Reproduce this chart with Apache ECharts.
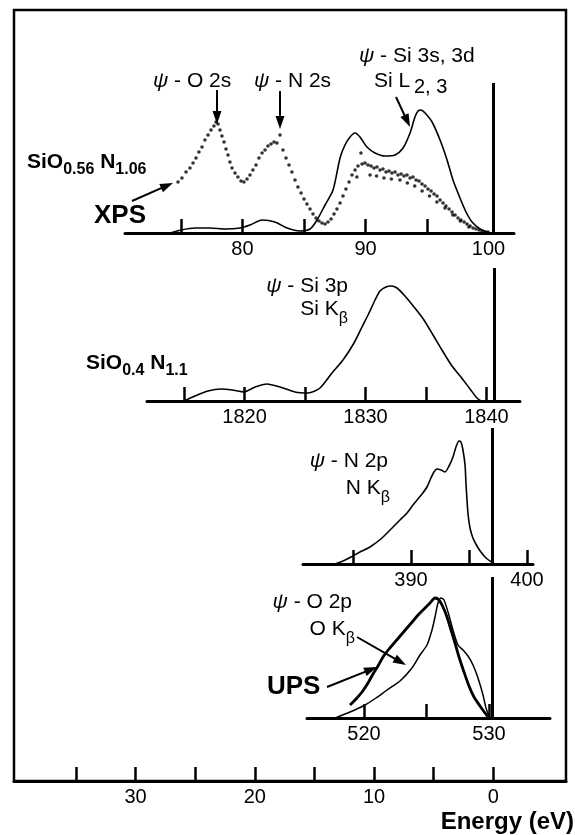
<!DOCTYPE html>
<html><head><meta charset="utf-8">
<script src="https://cdn.jsdelivr.net/npm/echarts@6/dist/echarts.min.js"></script>
<style>html,body{margin:0;padding:0;background:#fff}#c{width:575px;height:835px}</style>
</head><body><div id="c"></div>
<script>
// ---------- DATA ----------
// Common energy scale (eV, relative to Fermi level)
const bottomTicks = [35, 30, 25, 20, 15, 10, 5, 0];
const bottomLabels = [30, 20, 10, 0];

// Panel 1: SiO0.56N1.06 — Si L2,3 emission (solid) and XPS (dots)
const p1Ticks = [75, 80, 85, 90, 95];
const p1Labels = [80, 90, 100];
const p1Fermi = 100.37;
const p1SiL23 = [[74.11,0],[75.00,3],[76.14,5],[77.36,5],[78.58,4],[79.80,5],[80.61,8],[81.59,13],[82.64,11],[83.62,5],[84.67,2],[85.49,4],[86.06,13],[86.71,28],[87.36,43],[87.93,75],[88.33,88],[88.74,96],[89.15,100],[89.55,96],[90.12,86],[90.77,80],[91.59,77],[92.40,78],[93.05,85],[93.62,100],[94.02,116],[94.27,122],[94.51,123],[94.84,120],[95.41,111],[96.06,93],[96.63,73],[97.11,53],[97.68,35],[98.17,21],[98.66,11],[99.31,4],[100.12,0]];
const p1XPS = [[74.76,51],[75.08,55],[75.41,61],[75.73,65],[75.98,70],[76.22,75],[76.46,81],[76.71,86],[76.95,93],[77.20,98],[77.44,103],[77.68,107],[77.85,111],[78.01,109],[78.17,103],[78.33,97],[78.50,91],[78.66,84],[78.82,78],[78.98,71],[79.15,65],[79.39,60],[79.63,56],[79.88,52],[80.12,51],[80.37,54],[80.61,58],[80.85,63],[81.10,68],[81.34,75],[81.59,80],[81.83,83],[82.07,87],[82.32,89],[82.56,91],[82.80,90],[83.05,98],[83.29,83],[83.54,75],[83.78,68],[84.02,61],[84.27,53],[84.51,46],[84.76,40],[85.00,34],[85.24,29],[85.49,24],[85.73,19],[85.98,15],[86.22,12],[86.46,10],[86.71,9],[86.95,11],[87.20,14],[87.44,19],[87.68,24],[87.93,30],[88.17,37],[88.41,44],[88.66,51],[88.90,58],[89.15,63],[89.39,67],[89.63,80],[89.72,69],[89.96,70],[90.20,68],[90.45,67],[90.69,65],[90.93,66],[91.18,63],[91.42,64],[91.67,61],[91.91,62],[92.15,60],[92.40,61],[92.64,58],[92.89,59],[93.13,57],[93.37,58],[93.62,55],[93.86,56],[94.11,53],[94.35,52],[94.59,49],[94.84,47],[95.08,44],[95.33,42],[95.57,39],[95.81,37],[96.06,33],[96.30,30],[96.54,27],[96.79,24],[97.03,21],[97.28,18],[97.52,15],[97.76,13],[98.01,11],[98.25,9],[98.50,7],[98.74,5],[98.98,4],[99.23,3],[99.47,2],[99.72,1],[99.96,1],
  [89.30,56],[90.37,58],[90.90,57],[91.50,55],[92.10,54],[92.80,53],[93.40,50],[94.00,47],[94.60,42],[95.20,37],[95.80,31],[96.46,25],[97.10,18],[97.70,12],[98.40,6]];

// Panel 2: SiO0.4N1.1 — Si Kβ emission
const p2Ticks = [1815, 1820, 1825, 1830, 1835, 1840];
const p2Labels = [1820, 1830, 1840];
const p2Fermi = 1840.62;
const p2SiKb = [[1815.00,0],[1815.91,5],[1816.98,10],[1818.06,12],[1818.97,11],[1819.96,9],[1820.87,14],[1821.86,17],[1822.93,14],[1824.17,9],[1825.25,8],[1826.24,13],[1827.23,28],[1828.14,41],[1829.05,58],[1829.71,74],[1830.29,88],[1830.79,101],[1831.20,110],[1831.69,114],[1832.11,115],[1832.60,113],[1833.26,105],[1834.01,94],[1834.83,81],[1835.58,66],[1836.32,51],[1837.15,35],[1837.89,24],[1838.64,12],[1839.21,3],[1839.55,0]];

// Panel 3: N Kβ emission
const p3Ticks = [385, 390, 395, 400];
const p3Labels = [390, 400];
const p3Fermi = 396.98;
const p3NKb = [[383.45,0],[384.14,3],[384.83,7],[385.60,12],[386.47,17],[387.50,26],[388.45,37],[389.05,44],[389.66,51],[390.17,59],[390.52,64],[390.95,70],[391.38,77],[391.72,86],[391.98,92],[392.24,95],[392.59,94],[392.93,92],[393.28,98],[393.62,107],[393.88,117],[394.14,123],[394.31,122],[394.48,114],[394.66,99],[394.74,81],[394.91,51],[395.09,36],[395.34,26],[395.69,18],[396.03,12],[396.47,6],[397.07,1]];

// Panel 4: O Kβ emission (solid) and UPS (thick)
const p4Ticks = [520, 525, 530];
const p4Labels = [520, 530];
const p4Fermi = 530.24;
const p4OKb = [[517.68,0],[518.88,6],[520.08,13],[520.96,20],[521.84,28],[522.88,37],[523.84,50],[524.48,63],[525.04,73],[525.44,88],[525.68,101],[525.92,115],[526.16,120],[526.40,118],[526.72,106],[527.12,88],[527.52,73],[527.92,68],[528.32,62],[528.72,53],[529.12,40],[529.52,23],[529.76,10],[530.00,2]];
const p4UPS = [[518.88,13],[519.36,19],[519.84,26],[520.32,35],[520.72,44],[521.12,52],[521.52,61],[522.00,69],[522.48,76],[522.96,83],[523.44,90],[523.92,97],[524.40,104],[524.88,110],[525.28,115],[525.68,120],[526.00,118],[526.32,111],[526.64,101],[526.96,88],[527.28,75],[527.60,61],[528.00,46],[528.40,32],[528.80,21],[529.28,12],[529.68,5],[530.00,0]];

// ---------- CHART ----------
const FONT = '"Liberation Sans", Arial, Helvetica, sans-serif';
const chart = echarts.init(document.getElementById('c'), null, {renderer: 'canvas'});

function grid(left, top, width, height, show) {
  return {left, top, width, height, containLabel: false, outerBoundsMode: 'none',
    show: !!show, borderColor: '#000', borderWidth: 2.5, backgroundColor: 'transparent'};
}
function xAx(gi, min, max, ticks, labels, inverse) {
  return {type: 'value', gridIndex: gi, min, max, inverse: !!inverse, position: 'bottom',
    axisLine: {show: true, onZero: false, lineStyle: {color: '#000', width: 3}},
    axisTick: {show: true, inside: true, length: 14, lineStyle: {color: '#000', width: 2.5}, customValues: ticks},
    axisLabel: {show: true, color: '#000', fontSize: 20, fontFamily: FONT, margin: 6, customValues: labels,
      formatter: v => String(v)},
    splitLine: {show: false}, minorTick: {show: false}, axisPointer: {show: false}};
}
function yAx(gi, max) { return {type: 'value', gridIndex: gi, min: 0, max, show: false, splitLine: {show: false}}; }
function fermi(v) {
  return {silent: true, symbol: 'none', label: {show: false}, emphasis: {disabled: true},
    lineStyle: {color: '#000', width: 3, type: 'solid'}, data: [{xAxis: v}]};
}
function line(i, data, w, mark) {
  const s = {type: 'line', xAxisIndex: i, yAxisIndex: i, data, smooth: 0.25, symbol: 'none', showSymbol: false,
    lineStyle: {color: '#000', width: w}, silent: true, z: 3};
  if (mark !== undefined) s.markLine = fermi(mark);
  return s;
}

const annRich = {
  m: {fontSize: 21, fontFamily: FONT, lineHeight: 28, verticalAlign: 'top', fill: '#000'},
  p: {fontSize: 21, fontFamily: FONT, fontStyle: 'italic', lineHeight: 28, verticalAlign: 'top', fill: '#000'},
  s: {fontSize: 16, fontFamily: FONT, lineHeight: 16, verticalAlign: 'bottom', fill: '#000'}
};
const boldRich = {
  b: {fontSize: 21, fontFamily: FONT, fontWeight: 'bold', lineHeight: 26, verticalAlign: 'top', fill: '#000'},
  bs: {fontSize: 16, fontFamily: FONT, fontWeight: 'bold', lineHeight: 16, verticalAlign: 'bottom', fill: '#000'}
};
function txt(x, y, text, align, rich) {
  return {type: 'text', x, y, silent: true, z: 10,
    style: {text, align, verticalAlign: 'middle', fill: '#000', rich}};
}
function plainTxt(x, y, text, align, font) {
  return {type: 'text', x, y, silent: true, z: 10,
    style: {text, align, verticalAlign: 'middle', fill: '#000', font}};
}
function arrow(x1, y1, x2, y2) {
  const dx = x2 - x1, dy = y2 - y1, L = Math.hypot(dx, dy), ux = dx / L, uy = dy / L;
  const hl = 13, hw = 4.5, bx = x2 - ux * hl, by = y2 - uy * hl;
  return [
    {type: 'line', silent: true, z: 10, shape: {x1, y1, x2: bx + ux * 2, y2: by + uy * 2}, style: {stroke: '#000', lineWidth: 2}},
    {type: 'polygon', silent: true, z: 10, shape: {points: [[x2, y2], [bx - uy * hw, by + ux * hw], [bx + uy * hw, by - ux * hw]]}, style: {fill: '#000'}}
  ];
}

const graphics = [
  txt(153, 85, '{p|ψ}{m| - O 2s}', 'left', annRich),
  txt(254, 85, '{p|ψ}{m| - N 2s}', 'left', annRich),
  txt(359, 60, '{p|ψ}{m| - Si 3s, 3d}', 'left', annRich),
  txt(374, 85, '{m|Si L}', 'left', annRich),
  plainTxt(414, 87, '2, 3', 'left', '20px ' + FONT),
  txt(348, 290, '{p|ψ}{m| - Si 3p}', 'right', annRich),
  txt(348, 313, '{m|Si K}{s|β}', 'right', annRich),
  txt(388, 465, '{p|ψ}{m| - N 2p}', 'right', annRich),
  txt(390, 492, '{m|N K}{s|β}', 'right', annRich),
  txt(352, 606, '{p|ψ}{m| - O 2p}', 'right', annRich),
  txt(355, 633, '{m|O K}{s|β}', 'right', annRich),
  txt(27, 165, '{b|SiO}{bs|0.56}{b| N}{bs|1.06}', 'left', boldRich),
  txt(86, 366, '{b|SiO}{bs|0.4}{b| N}{bs|1.1}', 'left', boldRich),
  plainTxt(94, 216, 'XPS', 'left', 'bold 26px ' + FONT),
  plainTxt(267, 687, 'UPS', 'left', 'bold 26px ' + FONT),
  plainTxt(574, 822, 'Energy (eV)', 'right', 'bold 24px ' + FONT)
].concat(
  arrow(217, 90, 217, 124),
  arrow(280, 91, 280, 129),
  arrow(396, 97, 410, 127),
  arrow(132, 201, 173, 183),
  arrow(327, 687, 377, 667),
  arrow(357, 637, 406, 665)
);

chart.setOption({
  animation: false,
  backgroundColor: '#fff',
  textStyle: {fontFamily: FONT, color: '#000'},
  grid: [
    grid(14, 10, 552, 771, true),
    grid(125, 83, 389, 150),
    grid(147, 268, 373, 133),
    grid(303, 428, 230, 136),
    grid(307, 577, 243, 141)
  ],
  xAxis: [
    xAx(0, -6.1, 40.2, bottomTicks, bottomLabels, true),
    xAx(1, 70.45, 102.07, p1Ticks, p1Labels),
    xAx(2, 1811.94, 1842.77, p2Ticks, p2Labels),
    xAx(3, 380.69, 400.52, p3Ticks, p3Labels),
    xAx(4, 515.44, 534.88, p4Ticks, p4Labels)
  ],
  yAxis: [yAx(0, 100), yAx(1, 150), yAx(2, 133), yAx(3, 136), yAx(4, 141)],
  series: [
    line(1, p1SiL23, 1.6, p1Fermi),
    {type: 'scatter', xAxisIndex: 1, yAxisIndex: 1, data: p1XPS, symbol: 'circle', symbolSize: 3.6,
      itemStyle: {color: '#000'}, silent: true, z: 4},
    line(2, p2SiKb, 1.6, p2Fermi),
    line(3, p3NKb, 1.6, p3Fermi),
    line(4, p4OKb, 1.5, p4Fermi),
    line(4, p4UPS, 2.8)
  ],
  graphic: graphics
});
</script></body></html>
